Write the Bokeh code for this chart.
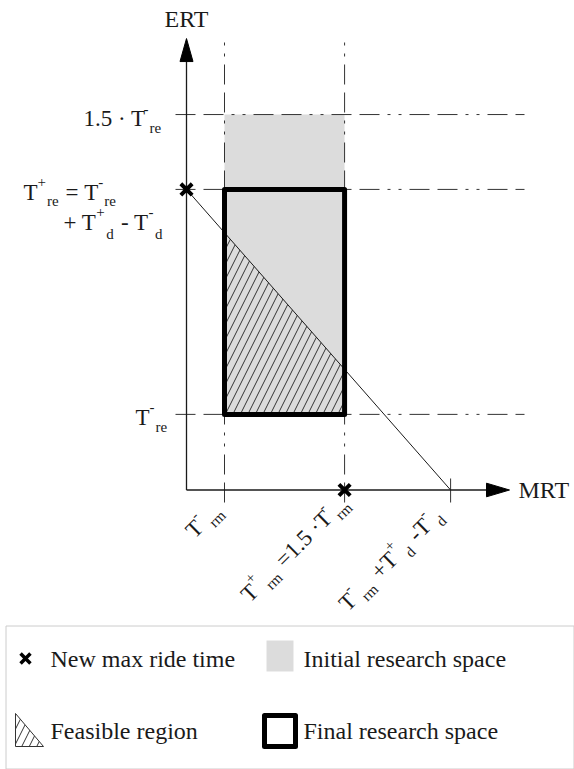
import math
from bokeh.plotting import figure
from bokeh.models import Range1d, ColumnDataSource
from bokeh.core.properties import value, field
from bokeh.embed import file_html
from bokeh.resources import INLINE

# ---------------- data (schematic units) ----------------
# MRT axis marks: T-rm, T+rm = 1.5*T-rm, T-rm + T+d - T-d
mrt_ticks = [1.0, 4.16, 6.95]
# ERT axis marks: T-re, T+re, 1.5*T-re
ert_ticks = [1.99, 7.91, 9.88]
axis_x_end = 8.5      # MRT arrow tip
axis_y_end = 11.88    # ERT arrow tip
new_max_x = [0.0, mrt_ticks[1]]
new_max_y = [ert_ticks[1], 0.0]

legend_labels = ["New max ride time", "Initial research space",
                 "Feasible region", "Final research space"]

FONT = value("Liberation Serif")
PX = 38.0          # pixels per schematic unit
OX, OY = 186, 489.5  # pixel position of the origin
GRAY = "#dcdcdc"
INK = "#1a1a1a"
DASH = "20 8 20 8 3 8 3 8"

W_, H_ = 574, 769
p = figure(width=W_, height=H_, output_backend="svg", toolbar_location=None,
           x_range=Range1d(-OX / PX, (W_ - OX) / PX), y_range=Range1d((OY - H_) / PX, OY / PX),
           min_border=0, x_axis_location=None, y_axis_location=None)
p.grid.visible = False
p.outline_line_color = None

def LX(px):  # page pixel -> x units (layout helper for legend)
    return (px - OX) / PX

def LY(py):
    return (OY - py) / PX

x0, x1, x2 = mrt_ticks
y0, y1, y2 = ert_ticks

# initial research space
p.quad(left=[x0], right=[x1], bottom=[y0], top=[y2], fill_color=GRAY, line_color=None)

# feasible region (below the diagonal, inside final space)
def diag(x):
    return y1 * (1 - x / x2)
p.patch([x0, x1, x1, x0], [y0, y0, diag(x1), diag(x0)], fill_alpha=0,
        line_color=None, hatch_pattern="/", hatch_color="#333333", hatch_scale=15, hatch_weight=1)

# dash-dot guide lines
hx0, hx1 = -11 / PX, 338 / PX
for yv in ert_ticks:
    p.line([hx0, hx1], [yv, yv], line_color="#333333", line_width=1, line_dash=DASH)
vy0 = -12.5 / PX
for xv in mrt_ticks[:2]:
    p.line([xv, xv], [vy0, axis_y_end], line_color="#333333", line_width=1, line_dash=DASH)
# tick at the third MRT mark
p.line([x2, x2], [-12.5 / PX, 11.5 / PX], line_color="#333333", line_width=1)

# diagonal
p.line([0, x2], [y1, 0], line_color=INK, line_width=1)

# axes with arrows
hl, hw = 23 / PX, 6.5 / PX
p.line([0, 0], [0, axis_y_end - hl], line_color=INK, line_width=1.3)
p.line([0, axis_x_end - hl], [0, 0], line_color=INK, line_width=1.3)
p.patch([0, -hw, hw], [axis_y_end, axis_y_end - hl, axis_y_end - hl], fill_color="black", line_color="black")
p.patch([axis_x_end, axis_x_end - hl, axis_x_end - hl], [0, hw * 1.05, -hw * 1.05], fill_color="black", line_color="black")

# final research space
p.quad(left=[x0], right=[x1], bottom=[y0], top=[y1], fill_color=None, line_color="black",
       line_width=5, line_join="round")

# new max ride time markers
p.scatter(new_max_x, new_max_y, marker="x", size=16, line_width=4, line_color="black")

# axis titles
p.text(x=[0], y=[axis_y_end], text=["ERT"], y_offset=[-20], text_font=FONT, text_font_size="24px",
       text_align="center", text_baseline="middle", text_color=INK)
p.text(x=[axis_x_end], y=[0], text=["MRT"], x_offset=[9], text_font=FONT, text_font_size="24px",
       text_align="left", text_baseline="middle", text_color=INK)

# ----------- composite labels with sub/superscripts -----------
W = {' ': 250, 'T': 611, 'r': 333, 'e': 444, 'm': 778, 'd': 500, '1': 500, '5': 500,
     '.': 250, '·': 250, '=': 564, '+': 564, '-': 333}

def width(s, fs):
    return sum(W.get(c, 500) for c in s) * fs / 1000.0

def layout(pieces, angle_deg, main_fs, scr_fs, raise_, drop, gap, start):
    th = math.radians(angle_deg)
    ux, uy = math.cos(th), -math.sin(th)
    nx, ny = -math.sin(th), -math.cos(th)
    adv = 0
    res = []
    for t, k in pieces:
        if k == 'sp':
            adv += width(" ", main_fs) * t
            continue
        fs = main_fs if k == 'n' else scr_fs
        sh = 0 if k == 'n' else (raise_ if k == 'sup' else -drop)
        ox = start[0] + adv * ux + sh * nx
        oy = start[1] + adv * uy + sh * ny
        res.append((t, fs, ox, oy))
        adv += width(t, fs) + (gap if k != 'n' else 0)
    return res

def draw_label(ax, ay, items, angle_deg):
    src = ColumnDataSource(dict(
        x=[ax] * len(items), y=[ay] * len(items),
        text=[i[0] for i in items], fs=["%dpx" % i[1] for i in items],
        xo=[i[2] for i in items], yo=[i[3] for i in items]))
    p.text(x="x", y="y", text="text", x_offset="xo", y_offset="yo", source=src,
           angle=math.radians(angle_deg), text_font=FONT, text_font_size=field("fs"),
           text_align="left", text_baseline="alphabetic", text_color=INK)

MF, SF = 23, 15
# left labels (start offsets in px relative to the axis at the tick)
draw_label(0, y2, layout([("1.5 · T", 'n'), ("-", 'sup'), ("re", 'sub')], 0, MF, SF, 10, 9, 1,
                         (-103, 4)), 0)
draw_label(0, y1, layout([("T", 'n'), ("+", 'sup'), ("re", 'sub'), (1, 'sp'), ("=", 'n'), (1, 'sp'),
                          ("T", 'n'), ("-", 'sup'), ("re", 'sub')],
                         0, MF, SF, 10, 9, 1, (-163, 3)), 0)
draw_label(0, y1, layout([("+ T", 'n'), ("+", 'sup'), ("d", 'sub'), (1, 'sp'), ("- T", 'n'),
                          ("-", 'sup'), ("d", 'sub')],
                         0, MF, SF, 10, 12, 1.5, (-123, 33)), 0)
draw_label(0, y0, layout([("T", 'n'), ("-", 'sup'), ("re", 'sub')], 0, MF, SF, 10, 10, 1,
                         (-51, 3)), 0)

# rotated MRT labels
draw_label(x0, 0, layout([("T", 'n'), ("-", 'sup'), ("rm", 'sub')], 45, MF, SF, 10, 9, 3,
                         (-35, 44)), 45)
draw_label(x1, 0, layout([("T", 'n'), ("+", 'sup'), ("rm", 'sub'), (1, 'sp'), ("=1.5 ·T", 'n'),
                          ("-", 'sup'), ("rm", 'sub')],
                         45, MF, SF, 10, 9, 2, (-100, 108)), 45)
draw_label(x2, 0, layout([("T", 'n'), ("-", 'sup'), ("rm", 'sub'), (1, 'sp'), ("+T", 'n'), ("+", 'sup'),
                          ("d", 'sub'), (1, 'sp'), ("-T", 'n'), ("-", 'sup'), ("d", 'sub')],
                         45, MF, SF, 10, 9, 2, (-108, 117)), 45)

# ---------------- legend (drawn in page pixels) ----------------
p.quad(left=[LX(5.5)], right=[LX(573.5)], top=[LY(625.5)], bottom=[LY(768.5)], fill_color=None,
       line_color="#cccccc", line_width=1)
p.scatter([LX(25)], [LY(658)], marker="x", size=14, line_width=3.5, line_color="black")
p.quad(left=[LX(266)], right=[LX(293)], top=[LY(640)], bottom=[LY(671)], fill_color=GRAY, line_color=None)
p.patch([LX(15), LX(15), LX(43)], [LY(713), LY(746), LY(746)], fill_alpha=0, line_color="#333333",
        line_width=1, hatch_pattern="/", hatch_color="#333333", hatch_scale=15, hatch_weight=1)
p.quad(left=[LX(264)], right=[LX(295)], top=[LY(715)], bottom=[LY(746)], fill_color=None,
       line_color="black", line_width=5, line_join="round")
p.text(x=[LX(50), LX(303), LX(50), LX(303)], y=[LY(658), LY(658), LY(730), LY(730)],
       text=legend_labels, text_font=FONT, text_font_size="24px", text_align="left",
       text_baseline="middle", text_color=INK)

open("out.html", "w").write(file_html(p, INLINE))
